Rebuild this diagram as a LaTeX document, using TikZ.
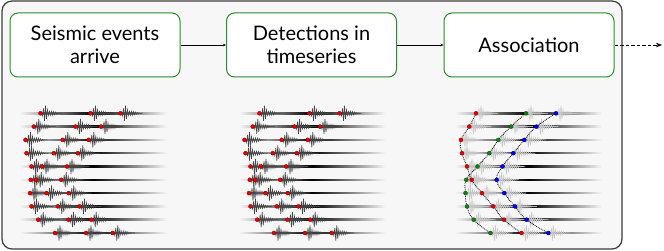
\documentclass[tikz,border=0pt]{standalone}
\usepackage{fontspec}
\setmainfont{Lato}
\usetikzlibrary{arrows.meta}
\definecolor{boxgreen}{RGB}{40,140,40}
\definecolor{panelgray}{RGB}{247,247,247}
\definecolor{framegray}{RGB}{60,60,60}
\definecolor{dotred}{RGB}{225,0,0}
\definecolor{dotgreen}{RGB}{20,125,20}
\definecolor{dotblue}{RGB}{0,0,235}
\tikzset{
  stage/.style={draw=boxgreen, line width=1pt, fill=white, rounded corners=8pt,
    minimum width=170pt, minimum height=64pt, align=center,
    font=\fontsize{20}{23}\selectfont},
  pick/.style={circle, draw=#1!70!black, fill=#1, inner sep=0pt, minimum size=4pt, line width=0.4pt},
  wave/.style={line width=0.7pt, black!72},
  ghost/.style={line width=0.7pt, black!22},
  link/.style={densely dotted, line width=0.8pt},
}
\newcommand{\wavelet}[3]{%
  \draw[#3] plot[domain=0:22, samples=45]
    ({#1+\x}, {#2+(7.5*exp(-(\x-4.5)*(\x-4.5)/5)+1.8*exp(-(\x-11)*(\x-11)/30))*cos(180*\x)});}

\begin{document}
\begin{tikzpicture}[x=1pt, y=-1pt]
  \useasboundingbox (0,0) rectangle (664,251);
  \draw[framegray, fill=panelgray, line width=1.2pt, rounded corners=10pt] (2,1) rectangle (622,249);

  \node[stage] (arrive) at (95,45) {Seismic events\\arrive};
  \node[stage] (detect) at (311.5,45) {Detections in\\timeseries};
  \node[stage] (assoc) at (529,45) {Association};
  \coordinate (out) at (662,45);
  \draw[line width=0.6pt, -{Stealth[length=3pt, width=2.5pt]}] (arrive) -- (detect);
  \draw[line width=0.6pt, -{Stealth[length=3pt, width=2.5pt]}] (detect) -- (assoc);
  \draw[line width=0.6pt, dash pattern=on 3.5pt off 2pt, -{Stealth[length=6pt, width=4.5pt]}] (assoc) -- (out);

  \foreach \px/\ws [count=\k] in {19.5/wave, 238.5/wave, 455/ghost}
    \foreach \r/\g/\b [count=\i] in {21/71/101, 14.3/56/81.5, 6/43.3/69.3, 7/34.3/58.3,
        12/22.5/47.5, 16.7/11.3/41.7, 27/10.5/49.3, 38.3/12/60, 49/18.7/71.7, 66.5/35.5/93.3} {
      \pgfmathsetmacro\y{113.3+13.3*(\i-1)}
      \shade[left color=panelgray, right color=panelgray, middle color=black]
        (\px,\y-0.75) rectangle (\px+147,\y+0.75);
      \wavelet{\px+\r}{\y}{\ws}
      \wavelet{\px+\g}{\y}{\ws}
      \wavelet{\px+\b}{\y}{\ws}
      \coordinate (p-\k-\i-r) at (\px+\r,\y);
      \coordinate (p-\k-\i-g) at (\px+\g,\y);
      \coordinate (p-\k-\i-b) at (\px+\b,\y);
    }

  \foreach \c in {r,g,b} {
    \gdef\track{}
    \foreach \i in {1,...,10} {\xdef\track{\track (p-3-\i-\c)}}
    \edef\temp{\noexpand\draw[link] plot[smooth, tension=0.8] coordinates {\track};}\temp
  }

  \foreach \k/\gc/\bc in {1/dotred/dotred, 2/dotred/dotred, 3/dotgreen/dotblue}
    \foreach \i in {1,...,10} {
      \node[pick=dotred] (d-\k-\i-r) at (p-\k-\i-r) {};
      \node[pick=\gc] (d-\k-\i-g) at (p-\k-\i-g) {};
      \node[pick=\bc] (d-\k-\i-b) at (p-\k-\i-b) {};
    }
\end{tikzpicture}
\end{document}
